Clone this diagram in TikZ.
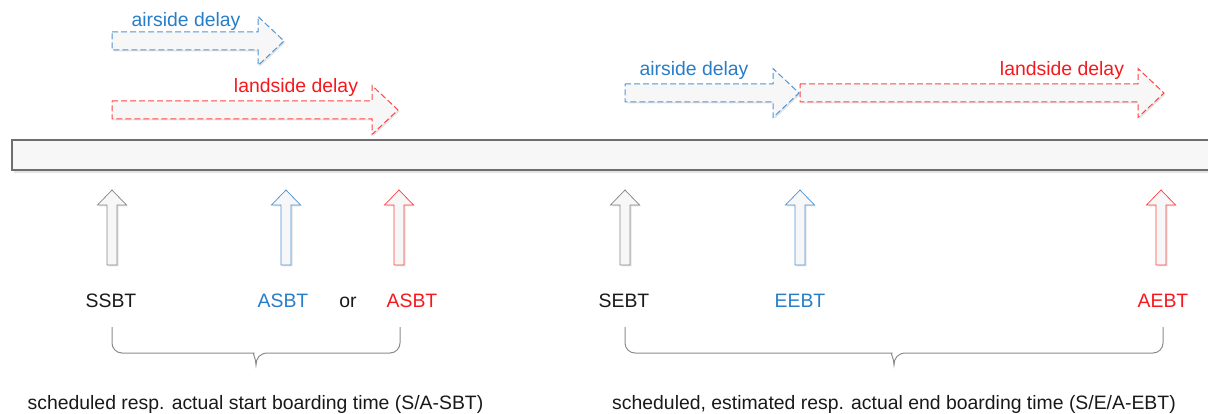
\documentclass[tikz,border=0pt]{standalone}
\usepackage{fontspec}
\setmainfont{Liberation Sans}
\definecolor{tblue}{RGB}{40,125,200}
\definecolor{tred}{RGB}{245,25,30}
\definecolor{tblack}{RGB}{25,25,25}
\definecolor{ablue}{RGB}{80,150,215}
\definecolor{ared}{RGB}{255,70,70}
\definecolor{agray}{RGB}{135,135,135}
\definecolor{barcol}{RGB}{110,110,110}
\definecolor{bracecol}{RGB}{140,140,140}
\definecolor{shadecol}{RGB}{228,228,228}
\definecolor{bodycol}{RGB}{247,247,247}
\tikzset{
  lbl/.style={font=\fontsize{19.4}{23}\selectfont, inner sep=0pt, anchor=base},
  blk/.style={fill=bodycol},
  shd/.style={fill=shadecol, draw=none},
  dsh/.style={dash pattern=on 6pt off 3pt, line width=1pt},
  mark line/.style={line width=0.75pt},
  pics/uparr/.style={code={
    \fill[shd, shift={(1.5,1.5)}] (0,0) -- (14.5,15) -- (5,15) -- (5,75) -- (-5,75)
      -- (-5,15) -- (-14.5,15) -- cycle;
    \path[blk, pic actions] (0,0) -- (14.5,15) -- (5,15) -- (5,75) -- (-5,75)
      -- (-5,15) -- (-14.5,15) -- cycle;}},
  pics/rarr/.style={code={
    \fill[shd, shift={(1.5,1.5)}] (0,-9) -- ({#1-26},-9) -- ({#1-26},-24.5) -- (#1,0)
      -- ({#1-26},24.5) -- ({#1-26},9) -- (0,9) -- cycle;
    \path[blk, pic actions] (0,-9) -- ({#1-26},-9) -- ({#1-26},-24.5) -- (#1,0)
      -- ({#1-26},24.5) -- ({#1-26},9) -- (0,9) -- cycle;}},
}
\begin{document}
\begin{tikzpicture}[x=1pt, y=-1pt]
\useasboundingbox (0,0) rectangle (1208,414);

% time line with its shadow
\fill[shadecol] (14,143) rectangle (1215,173);
\path[blk, draw=barcol, line width=1.2pt] (12,140) rectangle (1215,170);

% delay arrows, start boarding
\pic[draw=ablue, dsh] at (112,41) {rarr=172};
\pic[draw=ared, dsh] at (112,110) {rarr=286};
\node[lbl, text=tblue] (airA) at (186,26.5) {airside delay};
\node[lbl, text=tred] (landA) at (296,93) {landside delay};

% delay arrows, end boarding
\pic[draw=ablue, dsh] at (625,93) {rarr=174};
\pic[draw=ared, dsh] at (800,93) {rarr=364};
\node[lbl, text=tblue] (airB) at (694,76) {airside delay};
\node[lbl, text=tred] (landB) at (1062,76) {landside delay};

% time markers
\pic[draw=agray, mark line] at (112,190) {uparr};
\pic[draw=ablue, mark line] at (286,190) {uparr};
\pic[draw=ared, mark line] at (399,190) {uparr};
\pic[draw=agray, mark line] at (625,190) {uparr};
\pic[draw=ablue, mark line] at (800,190) {uparr};
\pic[draw=ared, mark line] at (1161,190) {uparr};

\node[lbl, text=tblack] (ssbt) at (111,307) {SSBT};
\node[lbl, text=tblue] (asbtA) at (283,307) {ASBT};
\node[lbl, text=tblack] (or) at (348,307) {or};
\node[lbl, text=tred] (asbtL) at (412,307) {ASBT};
\node[lbl, text=tblack] (sebt) at (624,307) {SEBT};
\node[lbl, text=tblue] (eebt) at (800,307) {EEBT};
\node[lbl, text=tred] (aebt) at (1163,307) {AEBT};

% braces
\draw[bracecol, line width=1pt]
  (112,327) [rounded corners=10pt] |- (244,353) [sharp corners]
  .. controls (252,353) and (256,358) .. (256,365)
  .. controls (256,358) and (260,353) .. (268,353)
  [rounded corners=10pt] -| (400,327);
\draw[bracecol, line width=1pt]
  (625,327) [rounded corners=10pt] |- (882,353) [sharp corners]
  .. controls (890,353) and (894,358) .. (894,365)
  .. controls (894,358) and (898,353) .. (906,353)
  [rounded corners=10pt] -| (1163,327);

\node[lbl, text=tblack] (sbt) at (255.5,409) {scheduled resp. actual start boarding time (S/A-SBT)};
\node[lbl, text=tblack] (ebt) at (894,409) {scheduled, estimated resp. actual end boarding time (S/E/A-EBT)};
\end{tikzpicture}
\end{document}
